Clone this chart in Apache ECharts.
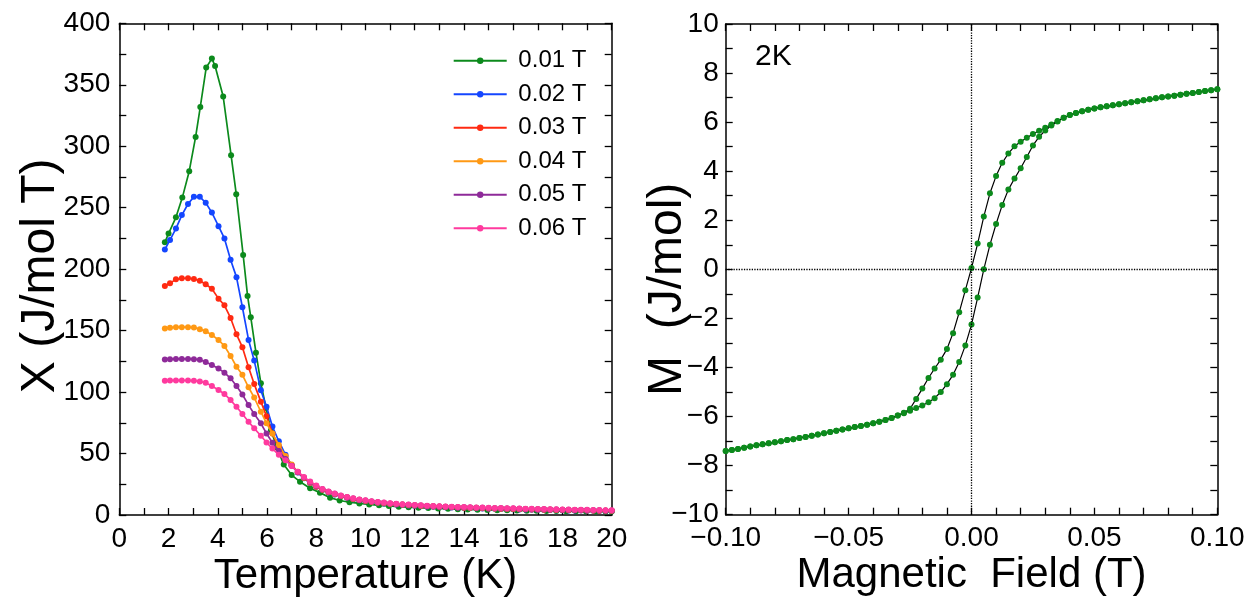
<!DOCTYPE html>
<html>
<head>
<meta charset="utf-8">
<script src="https://cdn.jsdelivr.net/npm/echarts@6/dist/echarts.min.js"></script>
<style>
html,body{margin:0;padding:0;background:#fff;}
#c{width:1258px;height:602px;}
</style>
</head>
<body>
<div id="c"></div>
<script>
// ---------- Left panel: susceptibility vs temperature ----------
const seriesNames = ['0.01 T','0.02 T','0.03 T','0.04 T','0.05 T','0.06 T'];
const seriesColors = ['#0c8a1c','#1446ff','#ff2a12','#ff9914','#8e2a99','#ff3a9e'];

const greenT = [1.85,2.0,2.3,2.56,2.84,3.1,3.29,3.53,3.76,3.89,4.22,4.54,4.75,5.03,5.21,5.34,5.55,5.75,5.96,6.16,6.4,6.68,7.0,7.34,7.75,8.15,8.56,8.95,9.35,9.75,10.15,10.55,10.95,11.35,11.75,12.15,12.55,12.95,13.35,13.75,14.15,14.55,14.95,15.35,15.75,16.15,16.55,16.95,17.35,17.75,18.15,18.55,18.95,19.35,19.75,20.0];
const chi001 = [221.9,228.9,242.2,258.2,279.7,307.6,332,364,371.3,365.3,340.4,292.7,261,211.6,178.2,160.9,132,107.2,87,69,55,41,32.5,27.1,21.7,18.2,14.1,11.8,10.4,9.4,8.6,7.9,7.3,6.8,6.3,5.9,5.6,5.3,5.0,4.75,4.5,4.3,4.1,3.95,3.8,3.65,3.5,3.4,3.3,3.2,3.1,3.0,2.95,2.85,2.8,2.75];

const tempT = [1.85,2.06,2.30,2.54,2.79,3.03,3.27,3.51,3.76,4.03,4.27,4.52,4.76,5.00,5.25,5.48,5.75,5.98,6.22,6.48,
  6.75,7.00,7.25,7.50,7.75,8.00,8.25,8.50,8.75,9.00,9.25,9.50,9.75,10.00,10.25,10.50,10.75,11.00,11.25,11.50,11.75,12.00,
  12.25,12.50,12.75,13.00,13.25,13.50,13.75,14.00,14.25,14.50,14.75,15.00,15.25,15.50,15.75,16.00,16.25,16.50,16.75,17.00,
  17.25,17.50,17.75,18.00,18.25,18.50,18.75,19.00,19.25,19.50,19.75,20.00];

const chi002 = [216,223.8,233,244,253,258.8,258.8,254,246,235,225,207.7,193.5,169,142.4,125.6,101.5,88.1,72,60,
  49,40.5,34.5,29.8,26,22.9,
  20.4,18.4,16.7,15.2,14.0,12.9,12.0,11.2,10.5,9.9,9.4,8.9,8.5,8.1,7.8,7.5,7.2,6.9,6.7,6.5,6.3,6.1,5.9,5.75,5.6,5.45,5.3,5.15,5.0,4.9,4.8,4.7,4.55,4.45,4.35,4.25,4.15,4.05,3.95,3.85,3.75,3.65,3.6,3.5,3.4,3.35,3.25,3.2];
const chi003 = [186.3,188.5,191.7,192.6,192.6,192,190.6,187.7,184.1,176,170.6,160.3,147,136.5,120.2,106.5,92.2,80.4,66.3,55.3,
  47.5,40.5,34.8,30,26.2,23.0,
  20.6,18.6,16.9,15.4,14.2,13.1,12.2,11.4,10.7,10.1,9.6,9.1,8.7,8.3,8.0,7.7,7.4,7.1,6.9,6.7,6.5,6.3,6.1,5.95,5.8,5.65,5.5,5.35,5.2,5.1,5.0,4.9,4.75,4.65,4.55,4.45,4.35,4.25,4.15,4.05,3.95,3.85,3.8,3.7,3.6,3.55,3.45,3.4];
const chi004 = [151.7,152.4,152.8,152.8,152.8,152.5,151.2,149.5,146.5,142.4,137.5,129.4,120.6,114,103.9,95.5,84,74.6,66.3,57,
  48,41,35.2,30.4,26.5,23.3,
  20.75,18.75,17.05,15.55,14.35,13.25,12.35,11.55,10.85,10.25,9.75,9.25,8.85,8.45,8.15,7.85,7.55,7.25,7.05,6.85,6.65,6.45,6.25,6.1,5.95,5.8,5.65,5.5,5.35,5.25,5.15,5.05,4.9,4.8,4.7,4.6,4.5,4.4,4.3,4.2,4.1,4.0,3.95,3.85,3.75,3.7,3.6,3.55];
const chi005 = [126.6,126.8,127,127,127,126.8,126.3,124.5,122.1,119.1,115.8,111.2,105,98,89.4,82.2,74.6,66.3,58.8,52,
  45.5,40,35,30.5,26.8,23.6,
  20.9,18.9,17.2,15.7,14.5,13.4,12.5,11.7,11.0,10.4,9.9,9.4,9.0,8.6,8.3,8.0,7.7,7.4,7.2,7.0,6.8,6.6,6.4,6.25,6.1,5.95,5.8,5.65,5.5,5.4,5.3,5.2,5.05,4.95,4.85,4.75,4.65,4.55,4.45,4.35,4.25,4.15,4.1,4.0,3.9,3.85,3.75,3.7];
const chi006 = [109.3,109.4,109.5,109.5,109.4,109.2,108.6,107.5,105,101.7,98.5,93.5,88.1,82.2,75.9,70.5,64.5,59,54,49,
  44.5,39.8,35.2,31,27.2,24,
  21.1,19.1,17.4,15.9,14.7,13.6,12.7,11.9,11.2,10.6,10.1,9.6,9.2,8.8,8.5,8.2,7.9,7.6,7.4,7.2,7.0,6.8,6.6,6.45,6.3,6.15,6.0,5.85,5.7,5.6,5.5,5.4,5.25,5.15,5.05,4.95,4.85,4.75,4.65,4.55,4.45,4.35,4.3,4.2,4.1,4.05,3.95,3.9];

const tempTicks = [0,2,4,6,8,10,12,14,16,18,20];
const chiTicks = [0,50,100,150,200,250,300,350,400];

// ---------- Right panel: M(H) loop at 2 K ----------
const fieldH = [-0.1000,-0.0975,-0.0950,-0.0925,-0.0900,-0.0875,-0.0850,-0.0825,-0.0800,-0.0775,
  -0.0750,-0.0725,-0.0700,-0.0675,-0.0650,-0.0625,-0.0600,-0.0575,-0.0550,-0.0525,
  -0.0500,-0.0475,-0.0450,-0.0425,-0.0400,-0.0375,-0.0350,-0.0325,-0.0300,-0.0275,
  -0.0250,-0.0225,-0.0200,-0.0175,-0.0150,-0.0125,-0.0100,-0.0075,-0.0050,-0.0025,
  0.0000,0.0025,0.0050,0.0075,0.0100,0.0125,0.0150,0.0175,0.0200,0.0225,
  0.0250,0.0275,0.0300,0.0325,0.0350,0.0375,0.0400,0.0425,0.0450,0.0475,
  0.0500,0.0525,0.0550,0.0575,0.0600,0.0625,0.0650,0.0675,0.0700,0.0725,
  0.0750,0.0775,0.0800,0.0825,0.0850,0.0875,0.0900,0.0925,0.0950,0.0975,0.1000];
const magDown = [-7.40,-7.36,-7.32,-7.27,-7.22,-7.17,-7.13,-7.09,-7.05,-7.01,
  -6.96,-6.92,-6.87,-6.83,-6.78,-6.73,-6.68,-6.63,-6.58,-6.53,
  -6.48,-6.43,-6.38,-6.33,-6.27,-6.21,-6.14,-6.06,-5.96,-5.84,
  -5.68,-5.28,-4.86,-4.43,-4.04,-3.68,-3.25,-2.60,-1.75,-0.85,
  0.05,1.05,2.15,3.10,3.80,4.34,4.72,5.02,5.20,5.36,
  5.52,5.65,5.77,5.90,6.05,6.18,6.29,6.37,6.44,6.50,
  6.56,6.61,6.65,6.69,6.73,6.77,6.81,6.85,6.89,6.93,
  6.97,7.01,7.04,7.08,7.12,7.16,7.19,7.23,7.27,7.30,7.34];
const magUp = [-7.40,-7.36,-7.32,-7.27,-7.22,-7.17,-7.13,-7.09,-7.05,-7.01,
  -6.96,-6.92,-6.87,-6.83,-6.78,-6.73,-6.68,-6.63,-6.58,-6.53,
  -6.48,-6.43,-6.38,-6.33,-6.27,-6.21,-6.14,-6.06,-5.96,-5.86,
  -5.76,-5.65,-5.55,-5.42,-5.25,-5.00,-4.68,-4.30,-3.78,-3.10,
  -2.25,-1.15,0.00,1.00,1.85,2.62,3.25,3.70,4.12,4.58,
  5.05,5.40,5.66,5.86,6.03,6.18,6.29,6.37,6.44,6.50,
  6.56,6.61,6.65,6.69,6.73,6.77,6.81,6.85,6.89,6.93,
  6.97,7.01,7.04,7.08,7.12,7.16,7.19,7.23,7.27,7.30,7.34];
const fieldTicks = [-0.10,-0.05,0.00,0.05,0.10];
const magTicks = [-10,-8,-6,-4,-2,0,2,4,6,8,10];
const loopColor = '#0c8a1c';

// ---------- chart ----------
const FONT = '"Liberation Sans", Arial, Helvetica, sans-serif';
const chart = echarts.init(document.getElementById('c'), null, {renderer:'canvas'});

const pairs = (xs, ys) => xs.map((x,i) => [x, ys[i]]);
const leftData = [pairs(greenT, chi001), pairs(tempT, chi002), pairs(tempT, chi003),
                  pairs(tempT, chi004), pairs(tempT, chi005), pairs(tempT, chi006)];
const minus = v => {
  if (Math.abs(v) < 1e-9) return null;
  return v < 0 ? '\u2212' : '';
};
const TICK = {color: '#000', width: 1.3};

function baseAxis(extra) {
  return Object.assign({
    type: 'value',
    nameMoveOverlap: false,
    axisLine: {show: true, onZero: false, lineStyle: {color: '#000', width: 1.5}},
    axisTick: {show: true, inside: true, length: 7, lineStyle: TICK},
    splitLine: {show: false},
    minorSplitLine: {show: false},
    nameTextStyle: {fontSize: 42, color: '#000', fontFamily: FONT}
  }, extra);
}

const option = {
  animation: false,
  backgroundColor: '#fff',
  textStyle: {fontFamily: FONT},
  title: {
    text: '2K', left: 755, top: 42, padding: 0,
    textStyle: {fontSize: 30, fontWeight: 'normal', color: '#000', fontFamily: FONT}
  },
  legend: {
    data: seriesNames,
    orient: 'vertical',
    left: 452.7, top: 48.7, padding: 0,
    itemWidth: 53, itemHeight: 8, itemGap: 9.5,
    formatter: n => ' ' + n,
    textStyle: {fontSize: 24, lineHeight: 22, color: '#000', fontFamily: FONT},
    selectedMode: false
  },
  grid: [
    {left: 119.3, top: 23.3, width: 492.4, height: 491.7},
    {left: 725.7, top: 24, width: 491.6, height: 490.7}
  ],
  xAxis: [
    baseAxis({gridIndex: 0, min: tempTicks[0], max: tempTicks[tempTicks.length-1], interval: 2,
      minorTick: {show: true, splitNumber: 2, length: 7, lineStyle: TICK},
      axisLabel: {fontSize: 28, color: '#000', fontFamily: FONT, margin: 10},
      name: 'Temperature (K)', nameLocation: 'middle', nameGap: 40}),
    baseAxis({gridIndex: 0, position: 'top', min: 0, max: 20, interval: 2,
      minorTick: {show: true, splitNumber: 2, length: 7, lineStyle: TICK},
      axisLabel: {show: false}}),
    baseAxis({gridIndex: 1, min: fieldTicks[0], max: fieldTicks[fieldTicks.length-1], interval: 0.05,
      minorTick: {show: true, splitNumber: 5, length: 7, lineStyle: TICK},
      axisLabel: {fontSize: 28, color: '#000', fontFamily: FONT, margin: 10,
        formatter: v => { const s = minus(v); return s === null ? '0.00' : s + Math.abs(v).toFixed(2); }},
      name: 'Magnetic  Field (T)', nameLocation: 'middle', nameGap: 40}),
    baseAxis({gridIndex: 1, position: 'top', min: -0.1, max: 0.1, interval: 0.05,
      minorTick: {show: true, splitNumber: 5, length: 7, lineStyle: TICK},
      axisLabel: {show: false}})
  ],
  yAxis: [
    baseAxis({gridIndex: 0, min: chiTicks[0], max: chiTicks[chiTicks.length-1], interval: 50,
      minorTick: {show: true, splitNumber: 2, length: 7, lineStyle: TICK},
      axisLabel: {fontSize: 28, color: '#000', fontFamily: FONT, margin: 9},
      name: 'X (J/mol T) ', nameLocation: 'middle', nameGap: 55,
      nameTextStyle: {fontSize: 48, color: '#000', fontFamily: FONT}}),
    baseAxis({gridIndex: 0, position: 'right', min: 0, max: 400, interval: 50,
      minorTick: {show: true, splitNumber: 2, length: 7, lineStyle: TICK},
      axisLabel: {show: false}}),
    baseAxis({gridIndex: 1, min: magTicks[0], max: magTicks[magTicks.length-1], interval: 2,
      minorTick: {show: true, splitNumber: 2, length: 7, lineStyle: TICK},
      axisLabel: {fontSize: 28, color: '#000', fontFamily: FONT, margin: 7,
        formatter: v => { const s = minus(v); return s === null ? '0' : s + Math.abs(v); }},
      name: 'M  (J/mol)   ', nameLocation: 'middle', nameGap: 34,
      nameTextStyle: {fontSize: 48, color: '#000', fontFamily: FONT}}),
    baseAxis({gridIndex: 1, position: 'right', min: -10, max: 10, interval: 2,
      minorTick: {show: true, splitNumber: 2, length: 7, lineStyle: TICK},
      axisLabel: {show: false}})
  ],
  series: [
    ...seriesNames.map((name, k) => ({
      name: name, type: 'line', xAxisIndex: 0, yAxisIndex: 0,
      data: leftData[k],
      symbol: 'circle', symbolSize: 6, showSymbol: true,
      itemStyle: {color: seriesColors[k]},
      lineStyle: {color: seriesColors[k], width: 1.7},
      emphasis: {disabled: true}, z: 2 + k
    })),
    {
      name: 'down', type: 'line', xAxisIndex: 2, yAxisIndex: 2,
      data: pairs(fieldH, magDown),
      symbol: 'circle', symbolSize: 6, showSymbol: true,
      itemStyle: {color: loopColor},
      lineStyle: {color: '#000', width: 1.2},
      emphasis: {disabled: true}, z: 3,
      markLine: {
        silent: true, symbol: ['none','none'], label: {show: false},
        lineStyle: {color: '#000', type: 'dotted', width: 1.3},
        data: [{xAxis: 0}, {yAxis: 0}]
      }
    },
    {
      name: 'up', type: 'line', xAxisIndex: 2, yAxisIndex: 2,
      data: pairs(fieldH, magUp),
      symbol: 'circle', symbolSize: 6, showSymbol: true,
      itemStyle: {color: loopColor},
      lineStyle: {color: '#000', width: 1.2},
      emphasis: {disabled: true}, z: 3
    }
  ]
};
chart.setOption(option);
</script>
</body>
</html>
